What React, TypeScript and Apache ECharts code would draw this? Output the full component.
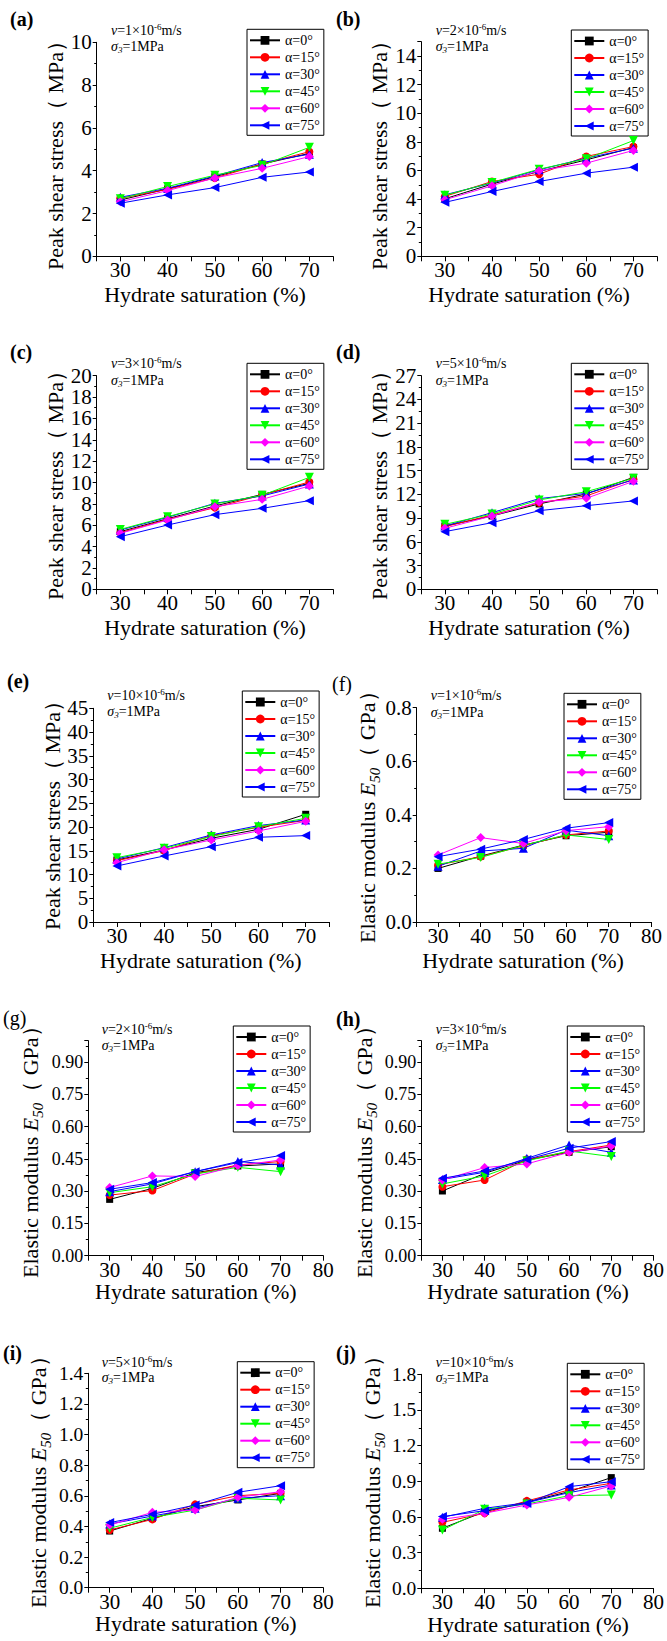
import React, { useEffect, useRef } from "react";
import * as echarts from "echarts";

const FONT = "Liberation Serif";

// ---------- data ----------
const saturation = [30, 40, 50, 60, 70];
const angleLabels = ["α=0°", "α=15°", "α=30°", "α=45°", "α=60°", "α=75°"];
const panelLetters = ["(a)", "(b)", "(c)", "(d)", "(e)", "(f)", "(g)", "(h)", "(i)", "(j)"];
const speedLabels = ["1", "2", "3", "5", "10", "1", "2", "3", "5", "10"];

// x-axis tick / label values
const xTicksShort = [25, 30, 35, 40, 45, 50, 55, 60, 65, 70, 75];
const xLabelsShort = [30, 40, 50, 60, 70];
const xTicksLong = [25, 30, 35, 40, 45, 50, 55, 60, 65, 70, 75, 80];
const xLabelsLong = [30, 40, 50, 60, 70, 80];

// Peak shear stress (MPa); rows: α = 0, 15, 30, 45, 60, 75
const peakV1 = [
  [2.63, 3.15, 3.72, 4.31, 4.81],
  [2.71, 3.13, 3.66, 4.31, 4.89],
  [2.76, 3.18, 3.75, 4.38, 4.77],
  [2.69, 3.26, 3.79, 4.25, 5.09],
  [2.55, 3.07, 3.66, 4.11, 4.66],
  [2.48, 2.87, 3.21, 3.69, 3.94],
];
const peakV2 = [
  [4.02, 5.05, 5.93, 6.74, 7.6],
  [4.19, 5.23, 5.74, 6.98, 7.67],
  [4.3, 5.12, 6.05, 6.86, 7.56],
  [4.26, 5.16, 6.09, 6.81, 8.09],
  [3.95, 4.93, 5.98, 6.51, 7.4],
  [3.77, 4.53, 5.23, 5.81, 6.23],
];
const peakV3 = [
  [5.4, 6.61, 7.8, 8.89, 9.92],
  [5.3, 6.55, 7.65, 8.83, 10.05],
  [5.55, 6.74, 8.05, 8.74, 9.86],
  [5.61, 6.8, 7.99, 8.8, 10.48],
  [5.24, 6.49, 7.74, 8.42, 9.67],
  [4.93, 6.02, 6.99, 7.58, 8.3],
];
const peakV5 = [
  [8.0, 9.27, 10.79, 12.05, 14.15],
  [7.92, 9.39, 10.95, 11.8, 13.9],
  [8.0, 9.69, 11.46, 12.13, 13.82],
  [8.21, 9.52, 11.29, 12.34, 14.03],
  [7.71, 9.27, 11.04, 11.5, 13.65],
  [7.29, 8.42, 9.94, 10.57, 11.17],
];
const peakV10 = [
  [13.06, 15.17, 17.63, 19.52, 22.68],
  [12.92, 15.03, 18.19, 19.94, 21.42],
  [13.27, 15.66, 18.33, 20.3, 21.49],
  [13.55, 15.52, 17.98, 20.08, 21.84],
  [12.5, 15.2, 17.28, 19.17, 21.2],
  [11.8, 13.9, 15.87, 17.84, 18.19],
];
// Elastic modulus E50 (GPa)
const modV1 = [
  [0.2, 0.246, 0.287, 0.322, 0.335],
  [0.213, 0.244, 0.284, 0.325, 0.34],
  [0.208, 0.265, 0.275, 0.343, 0.322],
  [0.216, 0.241, 0.286, 0.325, 0.308],
  [0.25, 0.315, 0.293, 0.341, 0.356],
  [0.244, 0.272, 0.308, 0.35, 0.371],
];
const modV2 = [
  [0.262, 0.313, 0.386, 0.417, 0.427],
  [0.282, 0.303, 0.38, 0.422, 0.438],
  [0.298, 0.334, 0.391, 0.438, 0.422],
  [0.293, 0.321, 0.38, 0.411, 0.391],
  [0.317, 0.371, 0.368, 0.419, 0.445],
  [0.309, 0.34, 0.391, 0.433, 0.466],
];
const modV3 = [
  [0.301, 0.383, 0.445, 0.481, 0.507],
  [0.321, 0.352, 0.448, 0.484, 0.515],
  [0.355, 0.388, 0.453, 0.515, 0.481],
  [0.334, 0.371, 0.441, 0.487, 0.461],
  [0.352, 0.41, 0.427, 0.481, 0.51],
  [0.36, 0.394, 0.448, 0.5, 0.531],
];
const modV5 = [
  [0.37, 0.453, 0.529, 0.573, 0.616],
  [0.377, 0.446, 0.544, 0.601, 0.616],
  [0.416, 0.468, 0.518, 0.584, 0.601],
  [0.388, 0.459, 0.507, 0.584, 0.573],
  [0.409, 0.492, 0.507, 0.59, 0.627],
  [0.425, 0.479, 0.54, 0.623, 0.666],
];
const modV10 = [
  [0.505, 0.645, 0.726, 0.813, 0.931],
  [0.555, 0.631, 0.735, 0.827, 0.883],
  [0.597, 0.673, 0.72, 0.805, 0.869],
  [0.49, 0.664, 0.709, 0.779, 0.785],
  [0.58, 0.631, 0.701, 0.765, 0.861],
  [0.603, 0.653, 0.715, 0.855, 0.897],
];
const panelValues = [peakV1, peakV2, peakV3, peakV5, peakV10, modV1, modV2, modV3, modV5, modV10];

// axis ranges per panel
const xMaxes = [75, 75, 75, 75, 75, 80, 80, 80, 80, 80];
const yMaxes = [10, 15, 20, 27, 45, 0.8, 1.0, 1.0, 1.4, 1.8];
const yIntervals = [2, 2, 2, 3, 5, 0.2, 0.15, 0.15, 0.2, 0.3];
const yDecimals = [0, 0, 0, 0, 0, 1, 2, 2, 1, 1];

// ---------- styles ----------
const seriesColors = ["#000000", "#ff0000", "#0000ff", "#00ff00", "#ff00ff", "#0000ff"];
const seriesSymbols = ["rect", "circle", "triangle", "triangle", "diamond", "triangle"];
const seriesRotate = [0, 0, 0, 180, 0, 90];
const seriesSymbolSize = [7, 8, 9, 9, 9, 9];

// layout (pixels) per panel
const layout = [
  { gl: 96.7, gt: 42.3, gw: 236.3, gh: 214, ys: 21, lg: [247, 29.3], lab: [10, 19], bold: true, note: [111, 30, 46.7], xt: [205, 294.5], yt: [55, 150] },
  { gl: 421.3, gt: 41.7, gw: 235.7, gh: 214.6, ys: 21, lg: [571.3, 30], lab: [336, 19], bold: true, note: [435.7, 30, 46.7], xt: [529, 294.5], yt: [379, 150] },
  { gl: 96.7, gt: 375.7, gw: 236.3, gh: 213.6, ys: 21, lg: [247, 363.3], lab: [10, 352], bold: true, note: [111, 363.3, 380], xt: [205, 627.5], yt: [55, 480] },
  { gl: 421.3, gt: 375.7, gw: 235.7, gh: 213.6, ys: 21, lg: [571.3, 363.3], lab: [336, 352], bold: true, note: [435.7, 363.3, 380], xt: [529, 627], yt: [379, 480] },
  { gl: 93.3, gt: 708.3, gw: 236, gh: 213.7, ys: 21, lg: [242.3, 691], lab: [7, 681], bold: true, note: [107.3, 695, 711.7], xt: [200.8, 960.5], yt: [52.7, 810] },
  { gl: 416.7, gt: 707.7, gw: 234.7, gh: 214.3, ys: 21, lg: [564, 693.3], lab: [332, 684], bold: false, note: [430.7, 695, 712.7], xt: [523, 960], yt: [367.3, 811.7] },
  { gl: 88.3, gt: 1040.7, gw: 235, gh: 215, ys: 18, lg: [233.3, 1026], lab: [3, 1018], bold: false, note: [101.7, 1029, 1045.7], xt: [195.8, 1291.5], yt: [30, 1146.7] },
  { gl: 421.3, gt: 1040.7, gw: 234.7, gh: 215, ys: 18, lg: [567.3, 1026], lab: [336, 1019], bold: true, note: [435.7, 1029, 1045.7], xt: [528, 1291.5], yt: [364, 1146.7] },
  { gl: 88.3, gt: 1373.3, gw: 235, gh: 214.4, ys: 19.5, lg: [237.3, 1361.7], lab: [3, 1353], bold: true, note: [101.7, 1362.3, 1377.3], xt: [195.8, 1623.5], yt: [38.3, 1476.7] },
  { gl: 421.3, gt: 1374.3, gw: 234.7, gh: 214, ys: 19.5, lg: [567.3, 1363.3], lab: [336, 1353], bold: true, note: [435.7, 1362.3, 1377.3], xt: [528, 1624.5], yt: [372.3, 1476.7] },
];

function buildOption() {
  const grid: any[] = [];
  const xAxis: any[] = [];
  const yAxis: any[] = [];
  const series: any[] = [];
  const legend: any[] = [];
  const graphic: any[] = [];

  layout.forEach((L, p) => {
    grid.push({ left: L.gl, top: L.gt, width: L.gw, height: L.gh, containLabel: false });
    const xMax = xMaxes[p];
    const long = xMax === 80;
    xAxis.push({
      type: "value",
      gridIndex: p,
      min: 25,
      max: xMax,
      axisLine: { onZero: false, lineStyle: { color: "#000", width: 1 } },
      axisTick: {
        show: true,
        length: 5,
        customValues: long ? xTicksLong : xTicksShort,
        lineStyle: { color: "#000", width: 1 },
      },
      axisLabel: {
        color: "#000",
        fontFamily: FONT,
        fontSize: 21,
        lineHeight: 20,
        margin: 4,
        customValues: long ? xLabelsLong : xLabelsShort,
        formatter: (v: number) => String(v),
      },
      splitLine: { show: false },
    });
    const yMax = yMaxes[p];
    const yInt = yIntervals[p];
    const onGrid = Math.abs(Math.round(yMax / yInt) * yInt - yMax) < 1e-9;
    yAxis.push({
      type: "value",
      gridIndex: p,
      min: 0,
      max: yMax,
      interval: yInt,
      axisLine: { show: true, onZero: false, lineStyle: { color: "#000", width: 1 } },
      axisTick: { show: true, length: 4, lineStyle: { color: "#000", width: 1 } },
      minorTick: { show: true, splitNumber: 2, length: 2.5, lineStyle: { color: "#000", width: 1 } },
      minorSplitLine: { show: false },
      axisLabel: {
        color: "#000",
        fontFamily: FONT,
        fontSize: L.ys,
        margin: 5,
        showMaxLabel: onGrid ? true : false,
        formatter: (v: number) => v.toFixed(yDecimals[p]),
      },
      splitLine: { show: false },
    });

    const vals = panelValues[p];
    angleLabels.forEach((name, k) => {
      series.push({
        type: "line",
        name,
        xAxisIndex: p,
        yAxisIndex: p,
        data: saturation.map((x, i) => [x, vals[k][i]]),
        symbol: seriesSymbols[k],
        symbolRotate: seriesRotate[k],
        symbolSize: seriesSymbolSize[k],
        showAllSymbol: true,
        color: seriesColors[k],
        itemStyle: { color: seriesColors[k], borderWidth: 0 },
        lineStyle: { color: seriesColors[k], width: 1 },
        emphasis: { disabled: true },
        z: 2 + k,
      });
    });

    legend.push({
      orient: "vertical",
      left: L.lg[0],
      top: L.lg[1],
      padding: [4, 4, 3, 2],
      itemGap: 3,
      itemWidth: 30,
      itemHeight: 11,
      borderColor: "#000",
      borderWidth: 1,
      backgroundColor: "#fff",
      selectedMode: false,
      textStyle: { color: "#000", fontFamily: FONT, fontSize: 14 },
      data: angleLabels,
    });

    // panel label
    graphic.push({
      type: "text",
      x: L.lab[0],
      y: L.lab[1],
      style: {
        text: panelLetters[p],
        fontFamily: FONT,
        fontSize: 20,
        fontWeight: L.bold ? "bold" : "normal",
        fill: "#000",
        align: "left",
        verticalAlign: "middle",
      },
    });

    // annotation lines
    graphic.push({
      type: "text",
      x: L.note[0],
      y: L.note[1],
      style: {
        text: `{i|v}{n|=${speedLabels[p]}×10}{sup|-6}{n|m/s}`,
        align: "left",
        verticalAlign: "middle",
        rich: {
          i: { fontFamily: FONT, fontSize: 14, fontStyle: "italic", fill: "#000", lineHeight: 16 },
          n: { fontFamily: FONT, fontSize: 14, fill: "#000", lineHeight: 16 },
          sup: { fontFamily: FONT, fontSize: 9, fill: "#000", lineHeight: 9, verticalAlign: "top" },
        },
      },
    });
    graphic.push({
      type: "text",
      x: L.note[0],
      y: L.note[2],
      style: {
        text: `{i|σ}{sub|3}{n|=1MPa}`,
        align: "left",
        verticalAlign: "middle",
        rich: {
          i: { fontFamily: FONT, fontSize: 14, fontStyle: "italic", fill: "#000", lineHeight: 16 },
          n: { fontFamily: FONT, fontSize: 14, fill: "#000", lineHeight: 16 },
          sub: { fontFamily: FONT, fontSize: 9, fontStyle: "italic", fill: "#000", lineHeight: 9, verticalAlign: "bottom" },
        },
      },
    });

    // x title
    graphic.push({
      type: "text",
      x: L.xt[0],
      y: L.xt[1],
      style: {
        text: "Hydrate saturation (%)",
        fontFamily: FONT,
        fontSize: 22,
        lineHeight: 20,
        fill: "#000",
        align: "center",
        verticalAlign: "middle",
      },
    });

    // y title
    const isMod = p >= 5;
    graphic.push({
      type: "text",
      x: L.yt[0],
      y: L.yt[1],
      rotation: Math.PI / 2,
      style: isMod
        ? {
            text: "{n|Elastic modulus }{e|E}{s|50}{n|（ GPa）}",
            align: "center",
            verticalAlign: "middle",
            rich: {
              n: { fontFamily: FONT, fontSize: 22, fill: "#000", lineHeight: 30 },
              e: { fontFamily: FONT, fontSize: 22, fontStyle: "italic", fill: "#000", lineHeight: 30 },
              s: { fontFamily: FONT, fontSize: 15, fontStyle: "italic", fill: "#000", lineHeight: 15, verticalAlign: "bottom" },
            },
          }
        : {
            text: "Peak shear stress（ MPa）",
            fontFamily: FONT,
            fontSize: 22,
            fill: "#000",
            align: "center",
            verticalAlign: "middle",
          },
    });
  });

  return {
    animation: false,
    backgroundColor: "#ffffff",
    textStyle: { fontFamily: FONT },
    grid,
    xAxis,
    yAxis,
    series,
    legend,
    graphic,
  };
}

export default function App() {
  const ref = useRef<HTMLDivElement>(null);
  useEffect(() => {
    if (!ref.current) return;
    const chart = echarts.init(ref.current, undefined, { renderer: "svg" });
    chart.setOption(buildOption() as any);
    return () => chart.dispose();
  }, []);
  return (
    <div
      ref={ref}
      style={{ position: "absolute", left: 0, top: 0, width: 667, height: 1641, background: "#fff" }}
    />
  );
}
